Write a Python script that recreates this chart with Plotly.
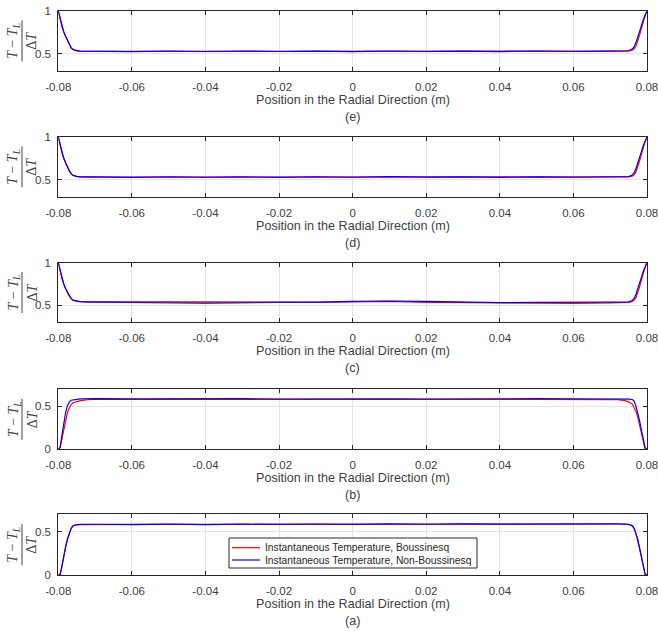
import plotly.graph_objects as go

# Radial positions (m), shared by every panel
position = [-0.08, -0.0795, -0.079, -0.0785, -0.078, -0.0775, -0.077, -0.0765, -0.076, -0.075, -0.074, -0.072,
            -0.07, -0.06, -0.05, -0.04, -0.03, -0.02, -0.01, 0.0, 0.01, 0.02, 0.03, 0.04, 0.05, 0.06, 0.07,
            0.072, 0.074, 0.075, 0.076, 0.0765, 0.077, 0.0775, 0.078, 0.0785, 0.079, 0.0795, 0.08]

# Normalised temperature (T - T_L)/dT, Boussinesq (bou) and Non-Boussinesq (nb)
bou_e = [1.0, 0.90, 0.81, 0.75, 0.70, 0.645, 0.60, 0.565, 0.548, 0.533, 0.528, 0.527,
         0.527, 0.526, 0.527, 0.527, 0.526, 0.527, 0.527, 0.526, 0.527, 0.527, 0.526, 0.527, 0.527, 0.526, 0.527,
         0.527, 0.527, 0.529, 0.54, 0.555, 0.59, 0.65, 0.72, 0.80, 0.88, 0.95, 1.0]
nb_e = [1.0, 0.91, 0.82, 0.755, 0.70, 0.65, 0.605, 0.568, 0.55, 0.535, 0.53, 0.529,
        0.53, 0.524, 0.531, 0.525, 0.531, 0.525, 0.53, 0.524, 0.531, 0.525, 0.53, 0.524, 0.531, 0.525, 0.53,
        0.529, 0.53, 0.534, 0.555, 0.58, 0.63, 0.69, 0.76, 0.83, 0.90, 0.96, 1.0]

bou_d = [1.0, 0.90, 0.81, 0.745, 0.69, 0.64, 0.60, 0.568, 0.55, 0.536, 0.531, 0.53,
         0.53, 0.529, 0.53, 0.531, 0.53, 0.529, 0.53, 0.531, 0.532, 0.531, 0.53, 0.529, 0.53, 0.53, 0.529,
         0.53, 0.53, 0.532, 0.54, 0.555, 0.59, 0.65, 0.72, 0.80, 0.88, 0.95, 1.0]
nb_d = [1.0, 0.91, 0.82, 0.75, 0.695, 0.645, 0.605, 0.57, 0.552, 0.538, 0.533, 0.532,
        0.533, 0.527, 0.534, 0.528, 0.533, 0.527, 0.534, 0.528, 0.535, 0.529, 0.533, 0.527, 0.533, 0.528, 0.532,
        0.532, 0.533, 0.536, 0.555, 0.58, 0.63, 0.69, 0.76, 0.83, 0.90, 0.96, 1.0]

bou_c = [1.0, 0.90, 0.81, 0.745, 0.69, 0.645, 0.605, 0.575, 0.558, 0.545, 0.54, 0.538,
         0.537, 0.535, 0.528, 0.522, 0.532, 0.535, 0.535, 0.54, 0.545, 0.535, 0.532, 0.528, 0.525, 0.522, 0.528,
         0.53, 0.532, 0.535, 0.545, 0.56, 0.59, 0.65, 0.72, 0.80, 0.88, 0.95, 1.0]
nb_c = [1.0, 0.91, 0.82, 0.75, 0.695, 0.65, 0.61, 0.578, 0.56, 0.547, 0.542, 0.54,
        0.54, 0.537, 0.535, 0.532, 0.538, 0.54, 0.537, 0.545, 0.55, 0.545, 0.535, 0.53, 0.535, 0.54, 0.537,
        0.537, 0.538, 0.54, 0.555, 0.58, 0.63, 0.69, 0.76, 0.83, 0.90, 0.96, 1.0]

bou_b = [0.0, 0.02, 0.12, 0.23, 0.34, 0.43, 0.48, 0.52, 0.54, 0.555, 0.565, 0.575,
         0.58, 0.578, 0.58, 0.582, 0.58, 0.578, 0.58, 0.579, 0.577, 0.578, 0.58, 0.579, 0.578, 0.577, 0.576,
         0.575, 0.565, 0.55, 0.525, 0.49, 0.44, 0.37, 0.28, 0.18, 0.08, 0.0, 0.0]
nb_b = [0.0, 0.02, 0.17, 0.31, 0.43, 0.51, 0.55, 0.57, 0.575, 0.58, 0.585, 0.587,
        0.588, 0.585, 0.588, 0.586, 0.588, 0.584, 0.587, 0.585, 0.586, 0.584, 0.587, 0.585, 0.588, 0.586, 0.587,
        0.586, 0.585, 0.582, 0.578, 0.56, 0.50, 0.42, 0.33, 0.22, 0.10, 0.02, 0.0]

bou_a = [0.0, 0.0, 0.10, 0.22, 0.32, 0.41, 0.48, 0.535, 0.565, 0.578, 0.58, 0.581,
         0.582, 0.583, 0.583, 0.584, 0.584, 0.585, 0.585, 0.585, 0.586, 0.586, 0.587, 0.587, 0.588, 0.588, 0.588,
         0.588, 0.587, 0.582, 0.565, 0.535, 0.475, 0.40, 0.30, 0.20, 0.09, 0.0, 0.0]
nb_a = [0.0, 0.01, 0.11, 0.23, 0.33, 0.42, 0.49, 0.54, 0.568, 0.58, 0.583, 0.584,
        0.585, 0.581, 0.586, 0.582, 0.587, 0.583, 0.588, 0.584, 0.589, 0.585, 0.59, 0.586, 0.59, 0.586, 0.59,
        0.59, 0.589, 0.585, 0.57, 0.54, 0.48, 0.41, 0.31, 0.21, 0.10, 0.01, 0.0]

panel_letters = ["(e)", "(d)", "(c)", "(b)", "(a)"]
bou_series = [bou_e, bou_d, bou_c, bou_b, bou_a]
nb_series = [nb_e, nb_d, nb_c, nb_b, nb_a]

x_tick_vals = [-0.08, -0.06, -0.04, -0.02, 0, 0.02, 0.04, 0.06, 0.08]
x_tick_text = ["-0.08", "-0.06", "-0.04", "-0.02", "0", "0.02", "0.04", "0.06", "0.08"]
y_tick_vals_upper = [0.5, 1]
y_tick_text_upper = ["0.5", "1"]
y_tick_vals_lower = [0, 0.5]
y_tick_text_lower = ["0", "0.5"]

legend_names = ["Instantaneous Temperature, Boussinesq", "Instantaneous Temperature, Non-Boussinesq"]
series_colors = ["#ff0000", "#0000ff"]
x_title = "Position in the Radial Direction (m)"

W, H = 658, 631
# pixel top/bottom of each axes box, top to bottom
box_top = [11, 137, 262.7, 389, 514.3]
box_bot = [70.7, 196.7, 322.3, 449.3, 575]
x_left, x_right = 58.3, 647

def py(p):
    return 1 - p / H

def px(p):
    return p / W

AX = "#262626"
TXT = "#404040"
GRID = "#e3e3e3"
FONT = "Liberation Sans, Arial, sans-serif"
SERIF = "Liberation Serif, DejaVu Serif, serif"

fig = go.Figure()
layout = dict(
    width=W, height=H,
    margin=dict(l=0, r=0, t=0, b=0, autoexpand=False),
    paper_bgcolor="white", plot_bgcolor="white",
    showlegend=False,
)
annotations = []
shapes = []

for i in range(5):
    n = "" if i == 0 else str(i + 1)
    xa, ya = "x" + n, "y" + n
    upper = i < 3
    for vals, name, col in zip([bou_series[i], nb_series[i]], legend_names, series_colors):
        fig.add_trace(go.Scatter(x=position, y=vals, mode="lines",
                                 line=dict(color=col, width=1.2),
                                 name=name, xaxis=xa, yaxis=ya))
    common = dict(showline=True, linecolor=AX, linewidth=1, mirror="ticks",
                  ticks="inside", ticklen=4, tickcolor=AX, tickwidth=1,
                  showgrid=True, gridcolor=GRID, gridwidth=1, zeroline=False,
                  automargin=False, ticklabeloverflow="allow",
                  tickfont=dict(family=FONT, size=11.5, color=TXT))
    layout["xaxis" + n] = dict(common, domain=[px(x_left), px(x_right)],
                               range=[-0.08, 0.08], tickvals=x_tick_vals, ticktext=x_tick_text,
                               ticklabelstandoff=5, anchor=ya)
    layout["yaxis" + n] = dict(common, domain=[py(box_bot[i]), py(box_top[i])],
                               range=[0.3, 1] if upper else [0, 0.7],
                               tickvals=y_tick_vals_upper if upper else y_tick_vals_lower,
                               ticktext=y_tick_text_upper if upper else y_tick_text_lower,
                               ticklabelstandoff=4, anchor=xa)
    xc = px((x_left + x_right) / 2)
    annotations.append(dict(text=x_title, x=xc, y=py(box_bot[i] + 29), xref="paper", yref="paper",
                            xanchor="center", yanchor="middle", showarrow=False,
                            font=dict(family=FONT, size=12.6, color=TXT)))
    annotations.append(dict(text=panel_letters[i], x=xc, y=py(box_bot[i] + 46), xref="paper", yref="paper",
                            xanchor="center", yanchor="middle", showarrow=False,
                            font=dict(family=FONT, size=12.6, color=TXT)))
    # y label drawn as a rotated fraction
    yc = (box_top[i] + box_bot[i]) / 2
    annotations.append(dict(text="<i>T</i> − <i>T</i><sub><i>L</i></sub>", x=px(14), y=py(yc),
                            xref="paper", yref="paper", xanchor="center", yanchor="middle",
                            textangle=-90, showarrow=False,
                            font=dict(family=SERIF, size=14, color=TXT)))
    annotations.append(dict(text="Δ<i>T</i>", x=px(32), y=py(yc),
                            xref="paper", yref="paper", xanchor="center", yanchor="middle",
                            textangle=-90, showarrow=False,
                            font=dict(family=SERIF, size=14, color=TXT)))
    shapes.append(dict(type="line", xref="paper", yref="paper",
                       x0=px(22), x1=px(22), y0=py(yc - 20.5), y1=py(yc + 20.5),
                       line=dict(color=TXT, width=1)))

# legend box inside the bottom panel
lg_left, lg_right, lg_top, lg_bot = 229, 477, 538, 568
shapes.append(dict(type="rect", xref="paper", yref="paper",
                   x0=px(lg_left), x1=px(lg_right), y0=py(lg_bot), y1=py(lg_top),
                   fillcolor="white", line=dict(color=AX, width=1), layer="above"))
for k, (name, col) in enumerate(zip(legend_names, series_colors)):
    row_y = lg_top + 9.7 + 12.3 * k
    shapes.append(dict(type="line", xref="paper", yref="paper",
                       x0=px(lg_left + 3), x1=px(lg_left + 31), y0=py(row_y), y1=py(row_y),
                       line=dict(color=col, width=1.2), layer="above"))
    annotations.append(dict(text=name, x=px(lg_left + 34), y=py(row_y), xref="paper", yref="paper",
                            xanchor="left", yanchor="middle", showarrow=False,
                            font=dict(family=FONT, size=10.3, color=AX)))

layout["annotations"] = annotations
layout["shapes"] = shapes
fig.update_layout(**layout)
fig.write_html("out.html")
